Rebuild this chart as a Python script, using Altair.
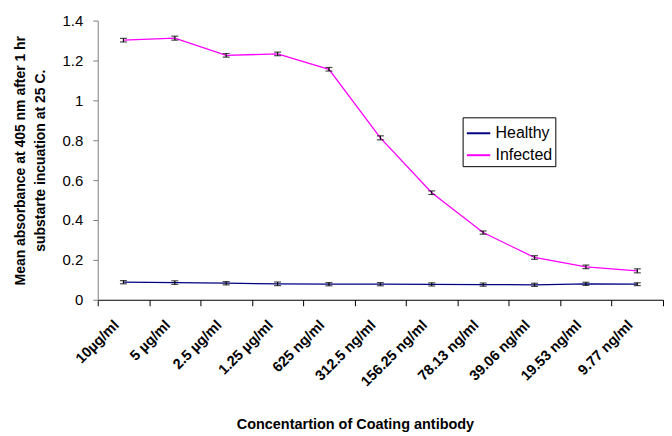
import altair as alt
import pandas as pd

categories = ["10µg/ml", "5 µg/ml", "2.5 µg/ml", "1.25 µg/ml", "625 ng/ml", "312.5 ng/ml",
              "156.25 ng/ml", "78.13 ng/ml", "39.06 ng/ml", "19.53 ng/ml", "9.77 ng/ml"]
healthy = [0.088, 0.086, 0.083, 0.080, 0.078, 0.078, 0.077, 0.076, 0.075, 0.080, 0.078]
healthy_err = [0.008, 0.009, 0.008, 0.009, 0.008, 0.008, 0.008, 0.008, 0.008, 0.008, 0.007]
infected = [1.302, 1.312, 1.226, 1.233, 1.156, 0.812, 0.537, 0.337, 0.212, 0.165, 0.145]
infected_err = [0.009, 0.010, 0.009, 0.009, 0.009, 0.010, 0.009, 0.008, 0.009, 0.009, 0.010]

rows = []
for c, v, e in zip(categories, healthy, healthy_err):
    rows.append({"conc": c, "series": "Healthy", "value": v, "lo": v - e, "hi": v + e})
for c, v, e in zip(categories, infected, infected_err):
    rows.append({"conc": c, "series": "Infected", "value": v, "lo": v - e, "hi": v + e})
df = pd.DataFrame(rows)

font = "Liberation Sans"

x_axis = alt.Axis(title="Concentartion of Coating antibody", labelAngle=315,
                  labelAlign="right", labelBaseline="middle", labelFontSize=14.5,
                  labelFontWeight="bold", labelOffset=-7,
                  labelFont=font, labelColor="black", labelPadding=17,
                  tickBand="extent", tickColor="black", tickSize=6,
                  domainColor="black", titleFont=font, titleFontSize=14.5,
                  titleFontWeight="bold", titlePadding=29, titleColor="black",
                  titleX=258, titleAlign="center", titleAnchor="start",
                  labelOverlap=False)
y_axis = alt.Axis(title=["Mean absorbance at 405 nm after 1 hr", "substarte incuation at 25 C."],
                  values=[0, 0.2, 0.4, 0.6, 0.8, 1, 1.2, 1.4], format="~g", grid=False,
                  labelFontSize=15, labelFont=font, labelColor="black", labelPadding=10,
                  domainColor="#808080", tickColor="#808080", tickSize=5,
                  titleFont=font, titleFontSize=14, titleFontWeight="bold", titleLineHeight=20,
                  titleColor="black", titlePadding=15)

x_scale = alt.Scale(type="band", paddingInner=0, paddingOuter=0)
y_scale = alt.Scale(domain=[0, 1.4])

line = alt.Chart(df).mark_line(strokeWidth=1.3).encode(
    x=alt.X("conc:N", sort=categories, scale=x_scale, axis=x_axis),
    y=alt.Y("value:Q", scale=y_scale, axis=y_axis),
    color=alt.Color("series:N",
                    scale=alt.Scale(domain=["Healthy", "Infected"], range=["#000080", "#FF00FF"]),
                    legend=alt.Legend(title=None, orient="none", legendX=366, legendY=97,
                                      symbolType="stroke", symbolSize=550, symbolStrokeWidth=2,
                                      labelFont=font, labelFontSize=16, labelColor="black",
                                      strokeColor="black", padding=3, rowPadding=1,
                                      labelOffset=4, fillColor="white"))
)

err = alt.Chart(df).mark_errorbar(ticks=alt.TickConfig(size=7, thickness=1.2), color="black",
                                  thickness=1.2).encode(
    x=alt.X("conc:N", sort=categories, scale=x_scale, axis=x_axis),
    y=alt.Y("lo:Q", scale=y_scale, axis=y_axis),
    y2="hi:Q",
)

chart = alt.layer(line, err).properties(
    width=567, height=280,
    padding={"left": 5, "right": 0, "top": 5, "bottom": 5},
).configure_view(stroke=None)

chart.save("out.html", embed_options={"renderer": "svg", "actions": False})
